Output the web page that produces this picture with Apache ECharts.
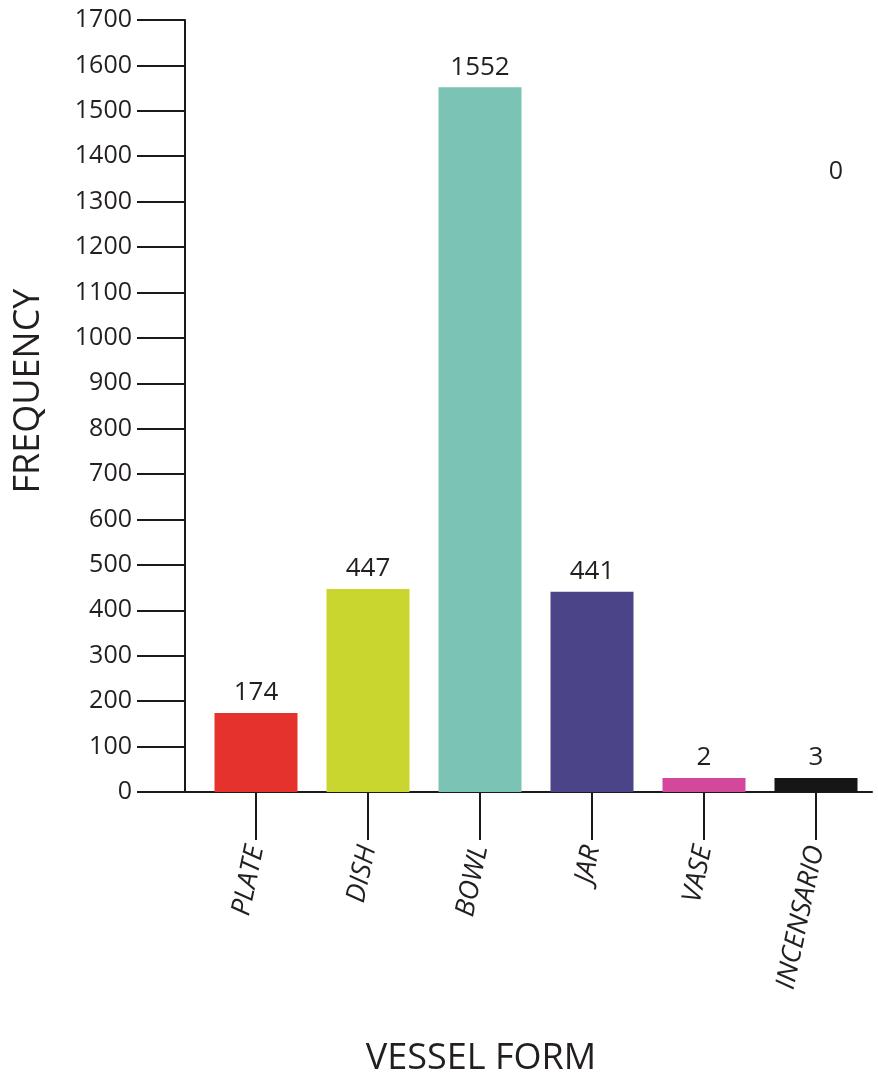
<!DOCTYPE html>
<html>
<head>
<meta charset="utf-8">
<title>Vessel form frequency</title>
<script src="https://cdn.jsdelivr.net/npm/echarts@6/dist/echarts.min.js"></script>
<style>
  html, body { margin: 0; padding: 0; background: #ffffff; }
  #chart { width: 878px; height: 1081px; }
</style>
</head>
<body>
<div id="chart"></div>
<script>
// Vessel forms and their counts
const categories = ['PLATE', 'DISH', 'BOWL', 'JAR', 'VASE', 'INCENSARIO'];
const frequency = [174, 447, 1552, 441, 2, 3];
const barColors = ['#e5322c', '#c9d62f', '#7bc3b3', '#4b4488', '#d4489b', '#161616'];

// Frequency axis range
const yMin = 0;
const yMax = 1700;
const yStep = 100;

// Stray count printed in the upper right of the plot
const strayLabel = '0';

const ink = '#231f20';
const font = '"Open Sans", "Noto Sans", sans-serif';

const chart = echarts.init(document.getElementById('chart'), null, { renderer: 'canvas' });

chart.setOption({
  backgroundColor: '#ffffff',
  animation: false,
  grid: { left: 200, right: 6, top: 20, bottom: 289, containLabel: false, outerBoundsMode: 'none' },
  xAxis: {
    type: 'category',
    data: categories,
    boundaryGap: true,
    axisLine: { show: true, lineStyle: { color: '#1a1a1a', width: 2 } },
    axisTick: { show: true, alignWithLabel: true, length: 48, lineStyle: { color: '#1a1a1a', width: 2 } },
    axisLabel: {
      rotate: 78,
      margin: 54,
      fontSize: 27,
      fontStyle: 'italic',
      fontFamily: font,
      color: ink
    },
    splitLine: { show: false }
  },
  yAxis: [
    {
      type: 'value',
      min: yMin,
      max: yMax,
      interval: yStep,
      offset: 15,
      axisLine: { show: true, lineStyle: { color: '#1a1a1a', width: 2 } },
      axisTick: { show: true, length: 48, lineStyle: { color: '#1a1a1a', width: 2 } },
      axisLabel: { margin: 53, fontSize: 25, fontFamily: font, color: ink, formatter: v => String(v) },
      splitLine: { show: false }
    },
    {
      // short stub joining the baseline to the offset frequency axis
      type: 'value',
      position: 'left',
      min: yMin,
      max: yMax,
      offset: 0,
      axisLine: { show: false },
      axisTick: { show: true, length: 15, customValues: [yMin], lineStyle: { color: '#1a1a1a', width: 2 } },
      axisLabel: { show: false },
      splitLine: { show: false }
    }
  ],
  series: [{
    type: 'bar',
    yAxisIndex: 0,
    barWidth: 83,
    barMinHeight: 14,
    data: frequency.map((v, i) => ({ value: v, itemStyle: { color: barColors[i] } })),
    label: {
      show: true,
      position: 'top',
      distance: 7,
      fontSize: 26,
      fontFamily: font,
      color: ink
    }
  }],
  graphic: [
    {
      type: 'text',
      x: 836,
      y: 172,
      style: { text: strayLabel, fontSize: 25, fontFamily: font, fill: ink, align: 'center', verticalAlign: 'middle' }
    },
    {
      type: 'text',
      x: 481,
      y: 1059,
      style: { text: 'VESSEL FORM', fontSize: 36, fontFamily: font, fill: ink, align: 'center', verticalAlign: 'middle' }
    },
    {
      type: 'text',
      x: 29,
      y: 391,
      rotation: Math.PI / 2,
      style: { text: 'FREQUENCY', fontSize: 36, fontFamily: font, fill: ink, align: 'center', verticalAlign: 'middle' }
    }
  ]
});
</script>
</body>
</html>
